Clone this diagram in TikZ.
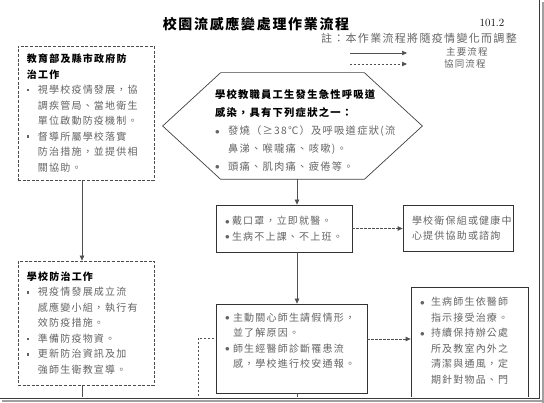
\documentclass[tikz,border=0pt]{standalone}
\usepackage{fontspec}
\usepackage{tikz}
\usetikzlibrary{arrows.meta,positioning}
\newfontfamily\cjk{Noto Sans CJK TC}[LetterSpace=12]
\definecolor{txtgray}{HTML}{646464}
\definecolor{linegray}{HTML}{505050}
\definecolor{pageedge}{HTML}{3A3A3A}
\definecolor{pageshadow}{HTML}{A0A0A0}
\newcommand{\hd}[1]{{\bfseries\color{black}#1}}
\newcommand{\bsq}{\makebox[11pt][l]{\raisebox{2.4pt}{\rule{2.4pt}{2.4pt}}}}
\newcommand{\bdot}[1][8pt]{\makebox[#1][l]{\raisebox{0.5pt}{\small$\bullet$}}}
\newcommand{\gap}[1][11pt]{\hspace*{#1}}
\tikzset{
  box/.style={draw=black!80, line width=0.7pt, fill=white, align=left, inner sep=0pt,
    font=\cjk\fontsize{10}{15.5}\selectfont, text=txtgray},
  dbox/.style={box, draw=black!70, dash pattern=on 3pt off 1.6pt},
  flow/.style={-{Triangle[length=5pt,width=4.4pt]}, line width=0.7pt, draw=linegray},
  coop/.style={flow, dash pattern=on 2.4pt off 1.6pt},
  plain/.style={line width=0.7pt, draw=linegray},
  pplain/.style={plain, dash pattern=on 2.4pt off 1.6pt},
  lbl/.style={font=\cjk\fontsize{9.5}{11}\selectfont, text=txtgray, inner sep=0pt},
}
\begin{document}
\begin{tikzpicture}[x=1pt, y=-1pt]
\useasboundingbox (0,0) rectangle (544,403);

\begin{scope}
\clip (0,0) rectangle (538.5,397);

% heading
\node[font=\cjk\fontsize{14}{16}\selectfont\bfseries, inner sep=0pt] (ttl) at (256,24) {校園流感應變處理作業流程};
\node[font=\fontsize{11}{12}\selectfont, inner sep=0pt] (ver) at (492,23) {101.2};
\node[lbl, font=\cjk\fontsize{11}{12}\selectfont, anchor=east] (note) at (517,38) {註：本作業流程將隨疫情變化而調整};

% legend
\coordinate (lga) at (350,53);
\coordinate (lgb) at (407,53);
\coordinate (lgc) at (350,64);
\coordinate (lgd) at (407,64);
\draw[flow] (lga) -- (lgb);
\draw[coop] (lgc) -- (lgd);
\node[lbl, anchor=west] (lgmain) at (446,52) {主要流程};
\node[lbl, anchor=west] (lgcoop) at (444,64) {協同流程};

% left column
\node[dbox, minimum width=136pt, minimum height=134pt, text width=118pt] (gov) at (86,113) {%
  \hd{教育部及縣市政府防}\\
  \hd{治工作}\\
  \bsq 視學校疫情發展，協\\
  \gap 調疾管局、當地衛生\\
  \gap 單位啟動防疫機制。\\
  \bsq 督導所屬學校落實\\
  \gap 防治措施，並提供相\\
  \gap 關協助。};

\node[dbox, minimum width=136pt, minimum height=124pt, text width=118pt] (school) at (86,323) {%
  \hd{學校防治工作}\\
  \bsq 視疫情發展成立流\\
  \gap 感應變小組，執行有\\
  \gap 效防疫措施。\\
  \bsq 準備防疫物資。\\
  \bsq 更新防治資訊及加\\
  \gap 強師生衛教宣導。};

% middle column
\node[box, draw=none, fill=none, minimum width=259pt, minimum height=106pt, text width=155pt,
  text depth=63pt, font=\cjk\fontsize{10.3}{17.8}\selectfont] (sick) at (292.5,126) {%
  \hd{學校教職員工生發生急性呼吸道}\\
  \hd{感染，具有下列症狀之一：}\\
  \bdot[13pt]發燒（≥38℃）及呼吸道症狀(流\\
  \gap[13pt]鼻涕、喉嚨痛、咳嗽)。\\
  \bdot[13pt]頭痛、肌肉痛、疲倦等。};
\draw[line width=0.7pt, draw=black!75] (sick.west) -- ([xshift=58pt]sick.north west)
  -- ([xshift=-58pt]sick.north east) -- (sick.east)
  -- ([xshift=-58pt]sick.south east) -- ([xshift=58pt]sick.south west) -- cycle;

\node[box, minimum width=136pt, minimum height=47pt, text width=118pt] (mask) at (284,228.5) {%
  \bdot[7pt]戴口罩，立即就醫。\\
  \bdot[7pt]生病不上課、不上班。};

\node[box, minimum width=151pt, minimum height=89pt, text width=133pt, text depth=63pt] (care) at (291.5,348.5) {%
  \bdot 主動關心師生請假情形，\\
  \gap[8pt]並了解原因。\\
  \bdot 師生經醫師診斷罹患流\\
  \gap[8pt]感，學校進行校安通報。};

% right column
\node[box, minimum width=110pt, minimum height=46pt, text width=92pt] (nurse) at (458,228) {%
  學校衛保組或健康中\\
  心提供協助或諮詢};

\node[box, anchor=north, minimum width=117pt, text width=99pt, inner ysep=10pt, text depth=110pt] (treat) at (469.5,287) {%
  \bdot[11pt]生病師生依醫師\\
  \gap 指示接受治療。\\
  \bdot[11pt]持續保持辦公處\\
  \gap 所及教室內外之\\
  \gap 清潔與通風，定\\
  \gap 期針對物品、門};

% connectors
\coordinate (govend) at (82,400);
\coordinate (careend) at (297,400);
\coordinate (coopend) at (198,400);
\draw[flow] ([xshift=-4pt]gov.south) -- ([xshift=-4pt]school.north);
\draw[plain] ([xshift=-4pt]school.south) -- (govend);
\draw[flow] ([xshift=4.5pt]sick.south) -- ([xshift=13pt]mask.north);
\draw[flow] ([xshift=13pt]mask.south) -- ([xshift=5.5pt]care.north);
\draw[plain] ([xshift=5.5pt]care.south) -- (careend);
\draw[coop] (mask.east) -- (mask.east -| nurse.west);
\draw[coop] ([yshift=9.5pt]care.east) -- ([yshift=9.5pt]care.east -| treat.west);
\draw[pplain] (coopend) |- ([yshift=10.5pt]care.west);
\end{scope}

% page edge
\draw[pageshadow, line width=2pt] (542.5,2) -- (542.5,403);
\draw[pageshadow, line width=2pt] (2,401.5) -- (544,401.5);
\draw[pageedge, line width=1.6pt] (539.5,0) -- (539.5,398.5) -- (0,398.5);
\end{tikzpicture}
\end{document}
